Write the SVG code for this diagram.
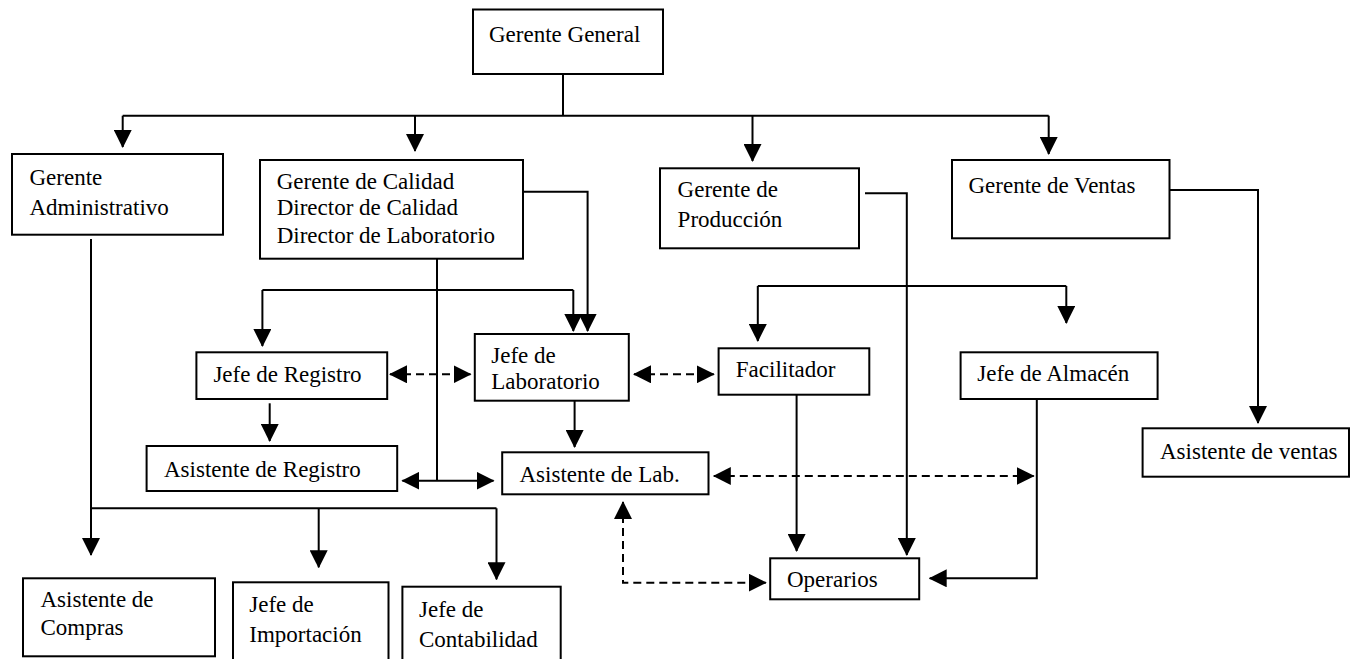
<svg xmlns="http://www.w3.org/2000/svg" width="1351" height="659" viewBox="0 0 1351 659">
  <style>
    .box { fill: #fff; stroke: #000; stroke-width: 2; }
    .lbl { font-family: "Liberation Serif", "Times New Roman", serif; font-size: 23px; fill: #000; }
    .ln { fill: none; stroke: #000; stroke-width: 2; }
    .dash { stroke-dasharray: 8 5; }
    .end { marker-end: url(#ah); }
    .both { marker-start: url(#ah); marker-end: url(#ah); }
  </style>
  <defs>
    <marker id="ah" viewBox="0 0 18 18" refX="17" refY="9" markerWidth="18" markerHeight="18" markerUnits="userSpaceOnUse" orient="auto-start-reverse">
      <path d="M0,0 L18,9 L0,18 z" fill="#000"/>
    </marker>
  </defs>
  <rect width="1351" height="659" fill="#fff"/>

  <!-- connectors -->
  <g id="connectors">
    <!-- top level -->
    <path class="ln" d="M563,74 V115.7 M122.7,115.7 H1048.7"/>
    <path class="ln end" d="M122.7,115.7 V147"/>
    <path class="ln end" d="M415,115.7 V151"/>
    <path class="ln end" d="M752.5,115.7 V161"/>
    <path class="ln end" d="M1048.7,115.7 V154"/>

    <!-- quality branch -->
    <path class="ln end" d="M523,191.7 H587.6 V331"/>
    <path class="ln" d="M262.4,290 H573.3"/>
    <path class="ln end" d="M262.4,290 V346"/>
    <path class="ln end" d="M573.3,290 V331"/>
    <path class="ln" d="M437,258.7 V480.7"/>
    <path class="ln both" d="M402.4,480.7 H493.5"/>
    <path class="ln end" d="M269.7,403.3 V441"/>
    <path class="ln end" d="M574.6,400.7 V447"/>
    <path class="ln dash both" d="M390,374.3 H470.5"/>
    <path class="ln dash both" d="M634,374.3 H713.8"/>

    <!-- production branch -->
    <path class="ln end" d="M865,193.3 H906.8 V555"/>
    <path class="ln" d="M757.8,286 H1066.3"/>
    <path class="ln end" d="M757.8,286 V341"/>
    <path class="ln end" d="M1066.3,286 V323"/>
    <path class="ln end" d="M796.6,394.7 V551"/>
    <path class="ln end" d="M1036.8,399 V578.3 H929.7"/>
    <path class="ln dash both" d="M713.8,476 H1033.7"/>
    <path class="ln dash both" d="M623,502 V582.7 H765.8"/>

    <!-- sales branch -->
    <path class="ln end" d="M1169.5,190 H1258 V423"/>

    <!-- administrative branch -->
    <path class="ln end" d="M91,239 V555"/>
    <path class="ln" d="M91,508.3 H496.5"/>
    <path class="ln end" d="M318.7,508.3 V567.3"/>
    <path class="ln end" d="M496.5,508.3 V579.3"/>
  </g>

  <g id="gerente-general">
    <rect class="box" x="473" y="9.5" width="190" height="64.5"/>
    <text class="lbl" x="489" y="42">Gerente General</text>
  </g>
  <g id="gerente-administrativo">
    <rect class="box" x="12" y="154" width="211" height="80.7"/>
    <text class="lbl" x="29.5" y="185">Gerente</text>
    <text class="lbl" x="29.5" y="215">Administrativo</text>
  </g>
  <g id="gerente-calidad">
    <rect class="box" x="260" y="160" width="263" height="98.7"/>
    <text class="lbl" x="276.7" y="189">Gerente de Calidad</text>
    <text class="lbl" x="276.7" y="215">Director de Calidad</text>
    <text class="lbl" x="276.7" y="242.7">Director de Laboratorio</text>
  </g>
  <g id="gerente-produccion">
    <rect class="box" x="660" y="168.3" width="199" height="80"/>
    <text class="lbl" x="677.6" y="197">Gerente de</text>
    <text class="lbl" x="677.6" y="227">Producción</text>
  </g>
  <g id="gerente-ventas">
    <rect class="box" x="952" y="160" width="217.5" height="78.3"/>
    <text class="lbl" x="968.5" y="192.7">Gerente de Ventas</text>
  </g>
  <g id="jefe-registro">
    <rect class="box" x="196.4" y="352.3" width="190.8" height="46.7"/>
    <text class="lbl" x="213.4" y="381.7">Jefe de Registro</text>
  </g>
  <g id="jefe-laboratorio">
    <rect class="box" x="474.8" y="334" width="154" height="66.7"/>
    <text class="lbl" x="491.3" y="362.7">Jefe de</text>
    <text class="lbl" x="491.3" y="389.3">Laboratorio</text>
  </g>
  <g id="facilitador">
    <rect class="box" x="718.6" y="348.3" width="150.7" height="46.4"/>
    <text class="lbl" x="735.8" y="377.3">Facilitador</text>
  </g>
  <g id="jefe-almacen">
    <rect class="box" x="960.6" y="352.3" width="197" height="46.7"/>
    <text class="lbl" x="977.3" y="381">Jefe de Almacén</text>
  </g>
  <g id="asistente-registro">
    <rect class="box" x="146.6" y="446" width="250.6" height="45"/>
    <text class="lbl" x="164" y="476.7">Asistente de Registro</text>
  </g>
  <g id="asistente-lab">
    <rect class="box" x="502.2" y="452.3" width="206.3" height="42"/>
    <text class="lbl" x="519.5" y="481.7">Asistente de Lab.</text>
  </g>
  <g id="asistente-ventas">
    <rect class="box" x="1142.6" y="428.3" width="206.4" height="48.4"/>
    <text class="lbl" x="1160" y="459.3">Asistente de ventas</text>
  </g>
  <g id="operarios">
    <rect class="box" x="770.2" y="558.3" width="149" height="41"/>
    <text class="lbl" x="787" y="586.7">Operarios</text>
  </g>
  <g id="asistente-compras">
    <rect class="box" x="23" y="578.3" width="192" height="78"/>
    <text class="lbl" x="40.5" y="606.7">Asistente de</text>
    <text class="lbl" x="40.5" y="635">Compras</text>
  </g>
  <g id="jefe-importacion">
    <rect class="box" x="233" y="582.3" width="155.5" height="90"/>
    <text class="lbl" x="249.3" y="611.7">Jefe de</text>
    <text class="lbl" x="249.3" y="641.7">Importación</text>
  </g>
  <g id="jefe-contabilidad">
    <rect class="box" x="402.4" y="586.7" width="158.3" height="90"/>
    <text class="lbl" x="419" y="616.7">Jefe de</text>
    <text class="lbl" x="419" y="646.7">Contabilidad</text>
  </g>
</svg>
